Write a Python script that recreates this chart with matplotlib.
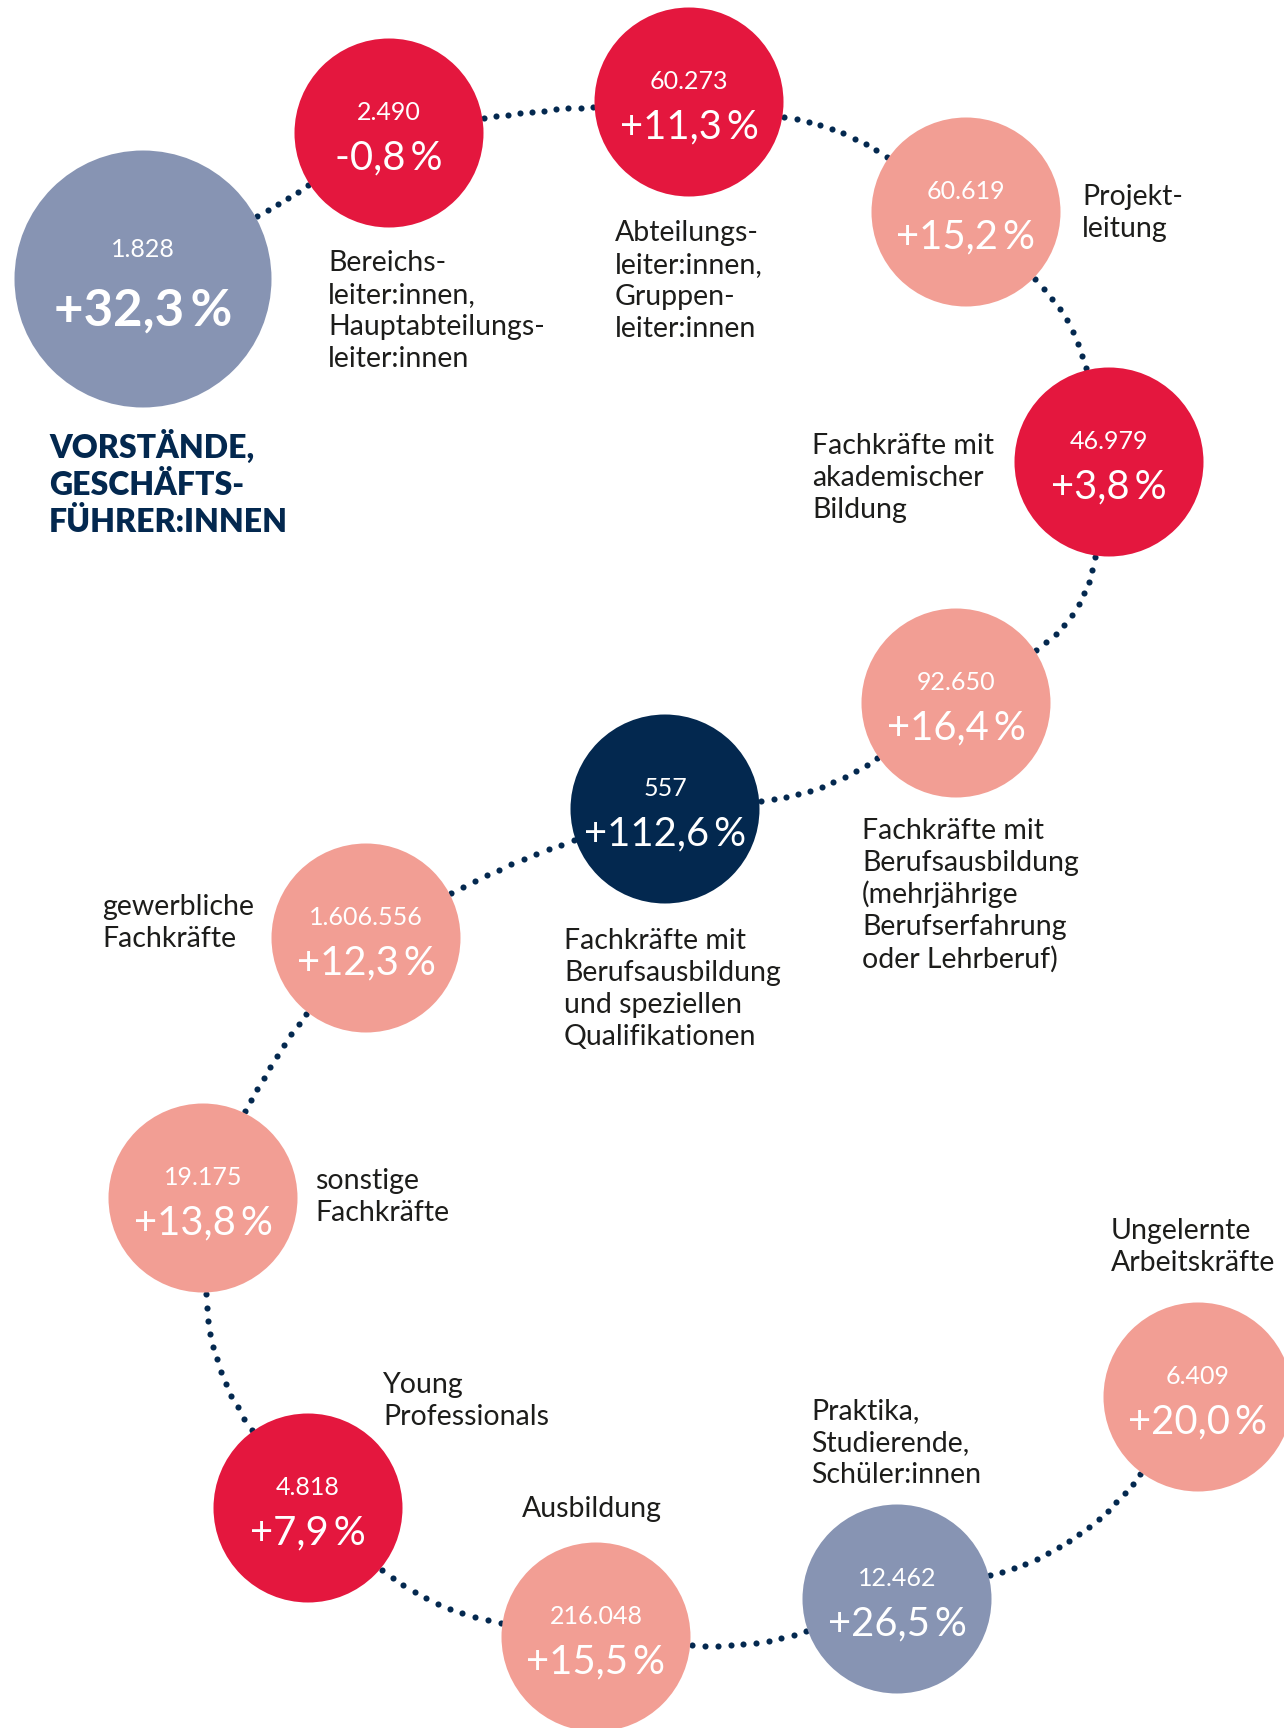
import numpy as np
import matplotlib
matplotlib.use("Agg")
import matplotlib.pyplot as plt
from matplotlib.patches import Circle

# ---------------------------  DATA  -------------------------------------- #
labels = [
    "VORSTÄNDE,\nGESCHÄFTS-\nFÜHRER:INNEN",
    "Bereichs-\nleiter:innen,\nHauptabteilungs-\nleiter:innen",
    "Abteilungs-\nleiter:innen,\nGruppen-\nleiter:innen",
    "Projekt-\nleitung",
    "Fachkräfte mit\nakademischer\nBildung",
    "Fachkräfte mit\nBerufsausbildung\n(mehrjährige\nBerufserfahrung\noder Lehrberuf)",
    "Fachkräfte mit\nBerufsausbildung\nund speziellen\nQualifikationen",
    "gewerbliche\nFachkräfte",
    "sonstige\nFachkräfte",
    "Young\nProfessionals",
    "Ausbildung",
    "Praktika,\nStudierende,\nSchüler:innen",
    "Ungelernte\nArbeitskräfte",
]
counts = [1828, 2490, 60273, 60619, 46979, 92650, 557, 1606556, 19175, 4818, 216048, 12462, 6409]
change_pct = [32.3, -0.8, 11.3, 15.2, 3.8, 16.4, 112.6, 12.3, 13.8, 7.9, 15.5, 26.5, 20.0]
colour_group = ["slate", "red", "red", "salmon", "red", "salmon", "navy",
                "salmon", "salmon", "red", "salmon", "slate", "salmon"]

# ---------------------------  LAYOUT / STYLE  -------------------------------------- #
palette = {"red": "#E4173E", "salmon": "#F29E94", "slate": "#8794B3", "navy": "#03284F"}
NAVY = "#03284F"
TEXT = "#1D1D1B"
FONT = ["Lato", "DejaVu Sans"]
THIN = "\u2009"

# circle centres (pixels) and radii
centres = [(143, 279), (389, 133), (689, 102), (966, 212), (1109, 462), (956, 703),
           (665, 809), (366, 938), (203, 1198), (308, 1508), (596, 1637),
           (897, 1599), (1198, 1397)]
radii = [128.5] + [94.5] * 12
# bend of each connecting curve (degrees)
bends = [2, -3, -13, -16, -24, -15, 4.5, 6, 17, 15.5, 12, 19.5]
# label anchor (x, first line y); None for the title which is handled apart
label_pos = [None, (328, 262), (615, 232), (1082, 196), (812, 445), (862, 830),
             (564, 940), (102, 906), (315, 1180), (383, 1384), (522, 1508),
             (811, 1410), (1111, 1230)]
LINE_STEP = 32


def fmt_count(v):
    return f"{v:,}".replace(",", ".")


def fmt_pct(p):
    s = f"{p:+.1f}".replace(".", ",")
    return s + THIN + "%"


def px2pt(px):
    return px * 0.72


fig = plt.figure(figsize=(12.84, 17.28), dpi=100)
ax = fig.add_axes([0, 0, 1, 1])
ax.set_xlim(0, 1284)
ax.set_ylim(1728, 0)
ax.axis("off")

# ---------------------------  DOTTED CONNECTORS  -------------------------------------- #
for i, bend in enumerate(bends):
    (ax_, ay), (bx, by) = centres[i], centres[i + 1]
    ra, rb = radii[i], radii[i + 1]
    c = np.arctan2(by - ay, bx - ax_)
    t = np.radians(bend)
    p0 = np.array([ax_ + ra * np.cos(c + t), ay + ra * np.sin(c + t)])
    p2 = np.array([bx + rb * np.cos(c + np.pi - t), by + rb * np.sin(c + np.pi - t)])
    chord = p2 - p0
    L = np.hypot(*chord)
    u = chord / L
    n = np.array([-u[1], u[0]])
    p1 = (p0 + p2) / 2 + n * (L / 2) * np.tan(t)
    s = np.linspace(0, 1, 400)
    curve = ((1 - s) ** 2)[:, None] * p0 + (2 * (1 - s) * s)[:, None] * p1 + (s ** 2)[:, None] * p2
    seg = np.hypot(*np.diff(curve, axis=0).T)
    arc = np.concatenate([[0], np.cumsum(seg)])
    ndots = int(arc[-1] // 12.5)
    gap = (arc[-1] - 4) / max(ndots, 1)
    d = 2 + gap * np.arange(ndots + 1)
    xs = np.interp(d, arc, curve[:, 0])
    ys = np.interp(d, arc, curve[:, 1])
    ax.plot(xs, ys, "o", ms=4.4, color=NAVY, mec="none", zorder=1)

# ---------------------------  CIRCLES  -------------------------------------- #
for i, (cx, cy) in enumerate(centres):
    ax.add_patch(Circle((cx, cy), radii[i], color=palette[colour_group[i]], lw=0, zorder=2))
    if i == 0:
        ax.text(cx, cy - 31 + 0.36 * 25, fmt_count(counts[i]), ha="center", va="baseline",
                color="white", fontsize=px2pt(25), family=FONT, zorder=3)
        ax.text(cx, cy + 28 + 0.36 * 51, fmt_pct(change_pct[i]), ha="center", va="baseline",
                color="white", fontsize=px2pt(51), fontweight="bold", family=FONT, zorder=3)
    else:
        ax.text(cx, cy - 22 + 0.36 * 25, fmt_count(counts[i]), ha="center", va="baseline",
                color="white", fontsize=px2pt(25), family=FONT, zorder=3)
        ax.text(cx, cy + 22 + 0.36 * 40, fmt_pct(change_pct[i]), ha="center", va="baseline",
                color="white", fontsize=px2pt(40), family=FONT, zorder=3)

# ---------------------------  LABELS  -------------------------------------- #
for i, lab in enumerate(labels):
    if label_pos[i] is None:
        continue
    x0, y0 = label_pos[i]
    for k, line in enumerate(lab.split("\n")):
        ax.text(x0, y0 + k * LINE_STEP + 0.33 * 28.5, line, ha="left", va="baseline",
                color=TEXT, fontsize=px2pt(28.5), family=FONT, zorder=3)

# title block for the first circle
for k, line in enumerate(labels[0].split("\n")):
    ax.text(49, 446 + k * 37 + 0.36 * 32, line, ha="left", va="baseline",
            color=NAVY, fontsize=px2pt(32), fontweight="heavy", family=FONT)

fig.savefig("out.png", dpi=100)
